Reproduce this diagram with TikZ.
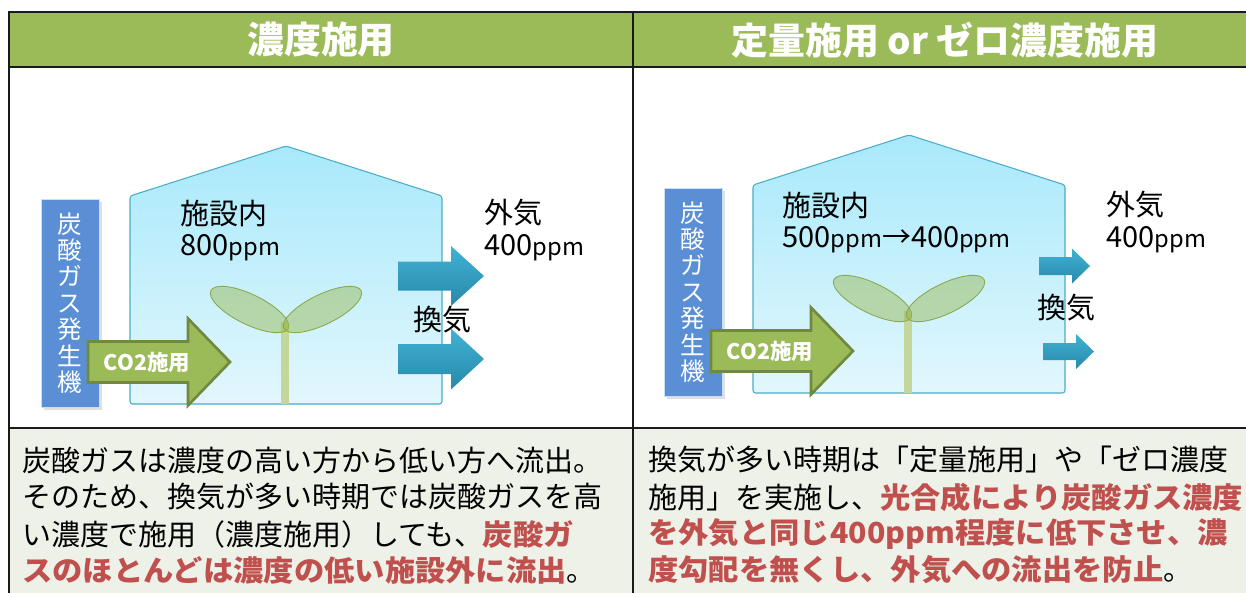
\documentclass[tikz,border=0pt]{standalone}
\usepackage{fontspec}
\setmainfont{Noto Sans CJK JP}
\usepackage{xcolor}
\usetikzlibrary{shadows}
\definecolor{hdrgreen}{HTML}{9BBB59}
\definecolor{notebg}{HTML}{EEF1E8}
\definecolor{gridline}{HTML}{1A1A1A}
\definecolor{genblue}{HTML}{5A8FD5}
\definecolor{houseedge}{HTML}{4BACC6}
\definecolor{housetop}{HTML}{A8E9FB}
\definecolor{housebot}{HTML}{E2F7FD}
\definecolor{co2green}{HTML}{9BBB59}
\definecolor{co2edge}{HTML}{71893F}
\definecolor{venttop}{HTML}{40B2D4}
\definecolor{ventbot}{HTML}{2889AA}
\definecolor{stemgreen}{HTML}{C3D69B}
\definecolor{alert}{HTML}{C0504D}
\tikzset{
  grid/.style={draw=gridline, line width=1.3pt},
  hdr/.style={text=white, font=\fontsize{21}{24}\selectfont\bfseries},
  note/.style={anchor=west, inner sep=0pt, font=\fontsize{16.5}{20}\selectfont},
  lbl/.style={anchor=west, inner sep=0pt, font=\fontsize{16.5}{20}\selectfont},
  house/.style={draw=houseedge, line width=0.6pt, top color=housetop,
    bottom color=housebot, rounded corners=1.5pt},
  stem/.style={draw=stemgreen, line width=5pt},
  leaf/.style={draw=hdrgreen!90!black, line width=0.5pt, fill=hdrgreen, fill opacity=0.5},
  genbox/.style={rectangle, fill=genblue, draw=white!70!genblue, line width=0.4pt,
    minimum width=1.16cm, minimum height=4.16cm, inner sep=0pt, text=white,
    align=center, font=\fontsize{14}{15}\selectfont,
    drop shadow={opacity=0.25, shadow xshift=1.5pt, shadow yshift=-1.5pt}},
  co2arrow/.style={fill=co2green, draw=co2edge, line width=1.5pt},
  co2text/.style={text=white, inner sep=0pt, font=\fontsize{12.2}{14}\selectfont\bfseries},
  vent/.style={top color=venttop, bottom color=ventbot}
}
% unit text and highlighted phrases
\newcommand{\ppm}{{\fontsize{13.5}{15}\selectfont ppm}}
\newcommand{\hl}[1]{{\color{alert}\bfseries\addfontfeature{FakeStretch=1.045}#1}}
% block arrow: tail x, head base x, tip x, centre y, half shaft, half head
\newcommand{\blockarrow}[7][]{%
  \path[#1] (#2,#5-#6) -- (#3,#5-#6) -- (#3,#5-#7) -- (#4,#5)
    -- (#3,#5+#7) -- (#3,#5+#6) -- (#2,#5+#6) -- cycle;}
% greenhouse with seedling, generator and CO2 supply arrow
\newcommand{\greenhouse}[1]{%
  \draw[house] (130,404) -- (130,196) -- (286,146) -- (442,196) -- (442,404) -- cycle;
  \draw[stem] (285,322) -- (285,404);
  \draw[leaf, rotate around={-26:(249.5,309.5)}] (249.5,309.5) ellipse [x radius=43, y radius=15];
  \draw[leaf, rotate around={26:(322.5,309.5)}] (322.5,309.5) ellipse [x radius=43, y radius=15];
  \node[genbox] (#1gen) at (70,303) {炭\\酸\\ガ\\ス\\発\\生\\機};
  \blockarrow[co2arrow]{88}{188}{230}{362}{20.5}{43.5}
  \node[co2text] (#1co2) at (147,362) {CO2施用};
}

\begin{document}
\begin{tikzpicture}[x=0.02cm, y=-0.02cm]
  \useasboundingbox (0,0) rectangle (1246,592);

  % table cells
  \fill[hdrgreen] (9,12) rectangle (1262,67);
  \fill[notebg] (9,428) rectangle (1262,600);
  \draw[grid] (1262,12) -- (9,12) -- (9,600);
  \draw[grid] (9,67) -- (1262,67);
  \draw[grid] (9,428) -- (1262,428);
  \draw[grid] (633,12) -- (633,600);

  \node[hdr] (hdrL) at (321,40) {濃度施用};
  \node[hdr] (hdrR) at (945,40) {定量施用\ or\ ゼロ濃度施用};

  % left panel
  \greenhouse{L}
  \blockarrow[vent]{398}{451}{484}{276}{14.5}{30}
  \blockarrow[vent]{398}{451}{484}{359}{15}{30.5}
  \node[lbl] (inL) at (180,213) {施設内};
  \node[lbl] (inLppm) at (180,248) {800\ppm};
  \node[lbl] (outL) at (484,213) {外気};
  \node[lbl] (outLppm) at (484,248) {400\ppm};
  \node[lbl] (ventL) at (413,320) {換気};

  % right panel
  \begin{scope}[shift={(623,-11)}]
    \greenhouse{R}
  \end{scope}
  \blockarrow[vent]{1039}{1072}{1090}{266}{9}{17.5}
  \blockarrow[vent]{1043}{1076}{1094}{351.5}{8.5}{17.5}
  \node[lbl] (inR) at (782,205) {施設内};
  \node[lbl] (inRppm) at (782,240) {500\ppm→400\ppm};
  \node[lbl] (outR) at (1106,205) {外気};
  \node[lbl] (outRppm) at (1106,240) {400\ppm};
  \node[lbl] (ventR) at (1037,308) {換気};

  % notes
  \node[note] (noteL1) at (22,460) {炭酸ガスは濃度の高い方から低い方へ流出。};
  \node[note] (noteL2) at (22,497) {そのため、換気が多い時期では炭酸ガスを高};
  \node[note] (noteL3) at (22,534) {い濃度で施用（濃度施用）しても、\hl{炭酸ガ}};
  \node[note] (noteL4) at (22,570) {\hl{スのほとんどは濃度の低い施設外に流出}。};
  \node[note] (noteR1) at (648,460) {換気が多い時期は「定量施用」や「ゼロ濃度};
  \node[note] (noteR2) at (648,497) {施用」を実施し、\hl{光合成により炭酸ガス濃度}};
  \node[note] (noteR3) at (648,534) {\hl{を外気と同じ400ppm程度に低下させ、濃}};
  \node[note] (noteR4) at (648,570) {\hl{度勾配を無くし、外気への流出を防止}。};
\end{tikzpicture}
\end{document}
